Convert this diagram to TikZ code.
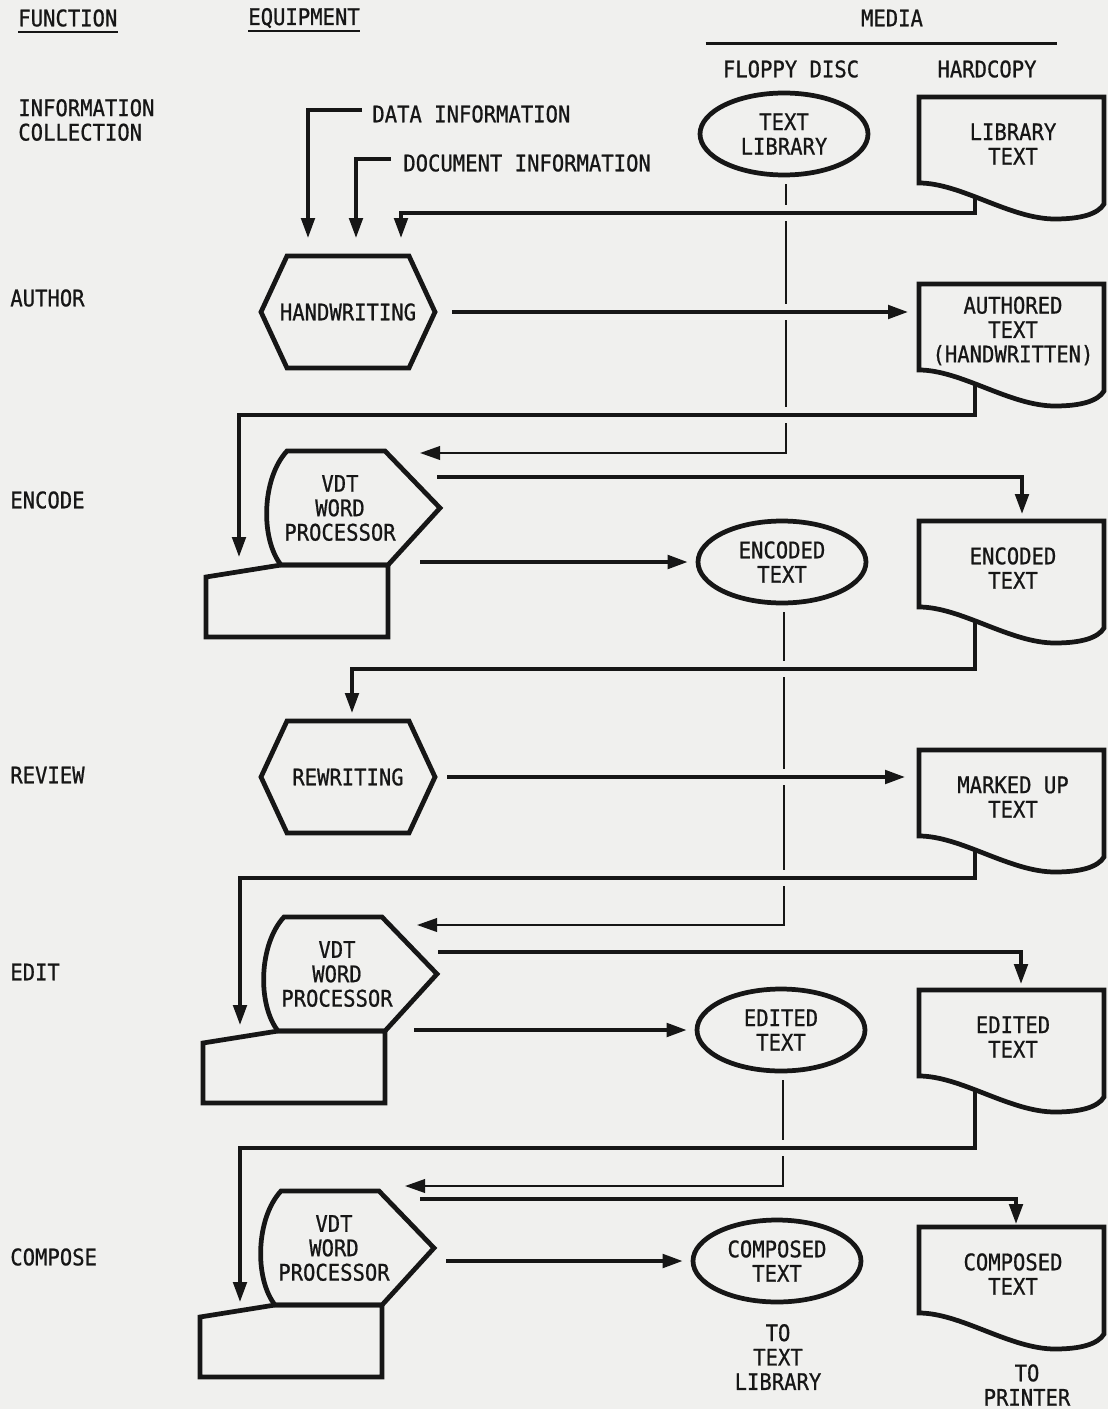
\documentclass[tikz,border=0pt]{standalone}
\usepackage{fontspec}
\usepackage{tikz}
\usetikzlibrary{arrows.meta,calc,shapes.geometric}
\newfontfamily\flowfont{DejaVu Sans Mono}[FakeStretch=0.9,FakeBold=0.8]
\definecolor{paper}{RGB}{240,240,238}
\definecolor{ink}{RGB}{22,22,22}

\newcommand\docoutline[1]{%
  \draw[outline] ($(#1.center)+(-94,39)$) -- ($(#1.center)+(-94,-47)$) -- ($(#1.center)+(91,-47)$) -- ($(#1.center)+(91,60)$)
    .. controls ($(#1.center)+(85,70)$) and ($(#1.center)+(68,75)$) .. ($(#1.center)+(42,75)$)
    .. controls ($(#1.center)+(-3,75)$) and ($(#1.center)+(-52,39)$) .. ($(#1.center)+(-94,39)$) -- cycle;}
\newcommand\hexoutline[1]{%
  \draw[outline] ($(#1.center)+(-61,-56)$) -- ($(#1.center)+(61,-56)$) -- ($(#1.center)+(87,0)$)
    -- ($(#1.center)+(61,56)$) -- ($(#1.center)+(-61,56)$) -- ($(#1.center)+(-87,0)$) -- cycle;}
\newcommand\vdtoutline[1]{%
  \draw[outline] ($(#1.center)+(-53,-57)$) -- ($(#1.center)+(45,-57)$) -- ($(#1.center)+(100,0)$) -- ($(#1.center)+(48,57)$) -- ($(#1.center)+(-59,57)$)
    .. controls ($(#1.center)+(-80,30)$) and ($(#1.center)+(-78,-30)$) .. ($(#1.center)+(-53,-57)$) -- cycle;
  \draw[outline] ($(#1.center)+(-134,69)$) -- ($(#1.center)+(-59,57)$) -- ($(#1.center)+(48,57)$)
    -- ($(#1.center)+(48,129)$) -- ($(#1.center)+(-134,129)$) -- cycle;}

\begin{document}
\begin{tikzpicture}[x=0.02cm,y=-0.02cm,>={Triangle[length=0.4cm,width=0.27cm]},
  every node/.style={font=\flowfont\fontsize{13pt}{13.9pt}\selectfont,text=ink,inner sep=0pt,align=center},
  outline/.style={draw=ink,line width=2.7pt,line join=miter},
  conn/.style={draw=ink,line width=2pt,->},
  floppy/.style={draw=ink,line width=1.2pt,->},
  cross/.style={preaction={draw=paper,line width=0.32cm,-}},
  rule/.style={draw=ink,line width=1pt},
  disc/.style={ellipse,draw=ink,line width=2.7pt,minimum width=3.36cm,minimum height=1.64cm}]
  \useasboundingbox (0,0) rectangle (1108,1409);
  \fill[paper] (0,0) rectangle (1108,1409);

  \node[anchor=west] (fn) at (18,18) {FUNCTION};
  \node[anchor=west] (eq) at (248,18) {EQUIPMENT};
  \node (md) at (892,18) {MEDIA};
  \node (fd) at (791,69) {FLOPPY DISC};
  \node (hc) at (987,69) {HARDCOPY};
  \draw[rule] ($(fn.base west)+(0,6)$) -- ($(fn.base east)+(0,6)$);
  \draw[rule] ($(eq.base west)+(0,6)$) -- ($(eq.base east)+(0,6)$);
  \draw[rule,line width=1.4pt] ($(fd.base west)+(-17,-34)$) -- ($(hc.base east)+(20,-34)$);

  \node[anchor=west,align=left] (fic) at (18,120) {INFORMATION\\COLLECTION};
  \node[anchor=west] (fau) at (10,298) {AUTHOR};
  \node[anchor=west] (fen) at (10,500) {ENCODE};
  \node[anchor=west] (frv) at (10,775) {REVIEW};
  \node[anchor=west] (fed) at (10,972) {EDIT};
  \node[anchor=west] (fco) at (10,1257) {COMPOSE};

  \node[anchor=west] (di) at (372,114) {DATA INFORMATION};
  \node[anchor=west] (dc) at (403,163) {DOCUMENT INFORMATION};

  \node[disc] (lib) at (784,134) {TEXT\\LIBRARY};
  \node (libd) at (1013,144) {LIBRARY\\TEXT};
  \node (hw) at (348,312) {HANDWRITING};
  \node (autd) at (1013,331) {AUTHORED\\TEXT\\(HANDWRITTEN)};
  \node (vdta) at (340,508) {VDT\\WORD\\PROCESSOR};
  \node[disc] (enc) at (782,562) {ENCODED\\TEXT};
  \node (encd) at (1013,568) {ENCODED\\TEXT};
  \node (rw) at (348,777) {REWRITING};
  \node (mrkd) at (1013,797) {MARKED UP\\TEXT};
  \node (vdtb) at (337,974) {VDT\\WORD\\PROCESSOR};
  \node[disc] (edt) at (781,1030) {EDITED\\TEXT};
  \node (edtd) at (1013,1037) {EDITED\\TEXT};
  \node (vdtc) at (334,1248) {VDT\\WORD\\PROCESSOR};
  \node[disc] (cmp) at (777,1261) {COMPOSED\\TEXT};
  \node (cmpd) at (1013,1274) {COMPOSED\\TEXT};
  \node (tl) at (778,1357) {TO\\TEXT\\LIBRARY};
  \node (tp) at (1027,1385) {TO\\PRINTER};

  \draw[floppy] ($(lib.south)+(2,7)$) |- ($(vdta.center)+(80,-55)$);
  \draw[floppy] ($(enc.south)+(2,7)$) |- ($(vdtb.center)+(80,-49)$);
  \draw[floppy] ($(edt.south)+(2,7)$) |- ($(vdtc.center)+(71,-62)$);

  \draw[conn,cross] ($(libd.center)+(-38,53)$) -- ++(0,16) -| ($(hw.center)+(53,-74)$);
  \draw[conn,cross] ($(hw.center)+(104,0)$) -- ($(hw.center -| autd.center)+(-105,0)$);
  \draw[conn,cross] ($(autd.center)+(-38,53)$) -- ++(0,31) -| ($(vdta.center)+(-101,49)$);
  \draw[conn,cross] ($(encd.center)+(-38,53)$) -- ++(0,48) -| ($(rw.center)+(4,-64)$);
  \draw[conn,cross] ($(rw.center)+(99,0)$) -- ($(rw.center -| mrkd.center)+(-108,0)$);
  \draw[conn,cross] ($(mrkd.center)+(-38,53)$) -- ++(0,28) -| ($(vdtb.center)+(-97,51)$);
  \draw[conn,cross] ($(edtd.center)+(-38,53)$) -- ++(0,58) -| ($(vdtc.center)+(-94,54)$);

  \draw[conn] ($(di.west)+(-10,-4)$) -| ($(hw.center)+(-40,-74)$);
  \draw[conn] ($(dc.west)+(-12,-4)$) -| ($(hw.center)+(8,-74)$);
  \draw[conn] ($(vdta.center)+(97,-31)$) -| ($(encd.center)+(9,-54)$);
  \draw[conn] ($(vdta.center |- enc.center)+(80,0)$) -- ($(enc.west)+(-8,0)$);
  \draw[conn] ($(vdtb.center)+(101,-22)$) -| ($(edtd.center)+(8,-53)$);
  \draw[conn] ($(vdtb.center |- edt.center)+(77,0)$) -- ($(edt.west)+(-8,0)$);
  \draw[conn] ($(vdtc.center)+(86,-49)$) -| ($(cmpd.center)+(3,-50)$);
  \draw[conn] ($(vdtc.center |- cmp.center)+(112,0)$) -- ($(cmp.west)+(-8,0)$);

  \docoutline{libd}
  \docoutline{autd}
  \docoutline{encd}
  \docoutline{mrkd}
  \docoutline{edtd}
  \docoutline{cmpd}
  \hexoutline{hw}
  \hexoutline{rw}
  \vdtoutline{vdta}
  \vdtoutline{vdtb}
  \vdtoutline{vdtc}
\end{tikzpicture}
\end{document}
